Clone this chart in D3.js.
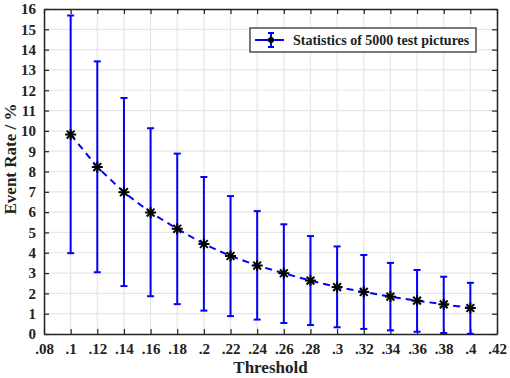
<!DOCTYPE html>
<html>
<head>
<meta charset="utf-8">
<script src="https://cdn.jsdelivr.net/npm/d3@7"></script>
<style>
  html, body { margin: 0; padding: 0; background: #fff; overflow: hidden; }
  svg { display: block; }
</style>
</head>
<body>
<div id="chart"></div>
<script>
// Threshold values and measured event rates (%)
const thresholds = [0.10, 0.12, 0.14, 0.16, 0.18, 0.20, 0.22, 0.24, 0.26, 0.28, 0.30, 0.32, 0.34, 0.36, 0.38, 0.40];
const meanRate   = [9.82, 8.22, 6.98, 5.98, 5.18, 4.43, 3.84, 3.37, 2.99, 2.63, 2.31, 2.07, 1.84, 1.64, 1.46, 1.28];
const upperRate  = [15.68, 13.42, 11.62, 10.13, 8.88, 7.73, 6.79, 6.05, 5.40, 4.82, 4.31, 3.89, 3.50, 3.15, 2.82, 2.52];
const lowerRate  = [3.98, 3.04, 2.36, 1.86, 1.47, 1.15, 0.88, 0.71, 0.54, 0.44, 0.33, 0.25, 0.18, 0.11, 0.05, 0.01];

const xTicks = [0.08, 0.10, 0.12, 0.14, 0.16, 0.18, 0.20, 0.22, 0.24, 0.26, 0.28, 0.30, 0.32, 0.34, 0.36, 0.38, 0.40, 0.42];
const yTicks = d3.range(0, 17);
const legendText = "Statistics of 5000 test pictures";

const serif = '"Liberation Serif", "Times New Roman", Times, serif';
const ink = "#222";

const width = 510, height = 378;
const margin = { left: 44, top: 9, right: 13, bottom: 44 };
const innerWidth = width - margin.left - margin.right;
const innerHeight = height - margin.top - margin.bottom;

const data = thresholds.map((t, i) => ({ t, mean: meanRate[i], hi: upperRate[i], lo: lowerRate[i] }));

const svg = d3.select("#chart").append("svg")
    .attr("width", width)
    .attr("height", height);
const g = svg.append("g").attr("transform", `translate(${margin.left}, ${margin.top})`);

const x = d3.scaleLinear().domain([0.08, 0.42]).range([0, innerWidth]);
const y = d3.scaleLinear().domain([0, 16]).range([innerHeight, 0]);

// Formats ".1", ".12" style labels
const fmt = v => String(+v.toFixed(2)).replace(/^0/, "");

function styleText(sel, size) {
    sel.style("font-family", serif)
        .style("font-weight", "bold")
        .style("font-size", size + "px")
        .attr("fill", ink);
}

// Grid lines
g.append("g").selectAll("line").data(xTicks.slice(1, -1)).enter().append("line")
    .attr("x1", d => x(d)).attr("x2", d => x(d))
    .attr("y1", 0).attr("y2", innerHeight)
    .attr("stroke", "#e6e6e6").attr("stroke-width", 1.2);
g.append("g").selectAll("line").data(yTicks.slice(1, -1)).enter().append("line")
    .attr("y1", d => y(d)).attr("y2", d => y(d))
    .attr("x1", 0).attr("x2", innerWidth)
    .attr("stroke", "#e6e6e6").attr("stroke-width", 1.2);

// Axes with inward ticks on all four sides
g.append("g").attr("transform", `translate(0, ${innerHeight})`)
    .call(d3.axisBottom(x).tickValues(xTicks).tickSizeInner(-5).tickSizeOuter(0).tickPadding(9).tickFormat(fmt))
    .call(a => styleText(a.selectAll("text"), 15));
g.append("g")
    .call(d3.axisTop(x).tickValues(xTicks).tickSizeInner(-5).tickSizeOuter(0).tickFormat(""));
g.append("g")
    .call(d3.axisLeft(y).tickValues(yTicks).tickSizeInner(-5).tickSizeOuter(0).tickPadding(8).tickFormat(d3.format("d")))
    .call(a => styleText(a.selectAll("text"), 15));
g.append("g").attr("transform", `translate(${innerWidth}, 0)`)
    .call(d3.axisRight(y).tickValues(yTicks).tickSizeInner(-5).tickSizeOuter(0).tickFormat(""));
g.selectAll(".domain").attr("stroke", ink).attr("stroke-width", 1.5);
g.selectAll(".tick line").attr("stroke", ink).attr("stroke-width", 1.2);

// Error bars
const capW = 3.5;
const bars = g.append("g").attr("stroke", "#0000ff").attr("stroke-width", 2);
bars.selectAll(".v").data(data).enter().append("line")
    .attr("x1", d => x(d.t)).attr("x2", d => x(d.t))
    .attr("y1", d => y(d.hi)).attr("y2", d => y(d.lo));
bars.selectAll(".top").data(data).enter().append("line")
    .attr("x1", d => x(d.t) - capW).attr("x2", d => x(d.t) + capW)
    .attr("y1", d => y(d.hi)).attr("y2", d => y(d.hi));
bars.selectAll(".bot").data(data).enter().append("line")
    .attr("x1", d => x(d.t) - capW).attr("x2", d => x(d.t) + capW)
    .attr("y1", d => y(d.lo)).attr("y2", d => y(d.lo));

// Dashed mean line
g.append("path").datum(data)
    .attr("fill", "none").attr("stroke", "#0000ff").attr("stroke-width", 2)
    .attr("stroke-dasharray", "7,5")
    .attr("d", d3.line().x(d => x(d.t)).y(d => y(d.mean)));

// Asterisk markers
function star(sel, r) {
    [0, 45, 90, 135].forEach(a => {
        const rad = a * Math.PI / 180;
        sel.append("line")
            .attr("x1", -r * Math.cos(rad)).attr("y1", -r * Math.sin(rad))
            .attr("x2", r * Math.cos(rad)).attr("y2", r * Math.sin(rad));
    });
}
g.append("g").selectAll("g").data(data).enter().append("g")
    .attr("transform", d => `translate(${x(d.t)}, ${y(d.mean)})`)
    .attr("stroke", "#000").attr("stroke-width", 2)
    .each(function () { star(d3.select(this), 5.5); });

// Axis labels
svg.append("text")
    .text("Threshold")
    .attr("text-anchor", "middle")
    .attr("x", margin.left + innerWidth / 2)
    .attr("y", 373)
    .call(styleText, 17);
svg.append("text")
    .text("Event Rate / %")
    .attr("text-anchor", "middle")
    .attr("transform", `translate(16, 159) rotate(-90)`)
    .call(styleText, 17);

// Legend
const lg = svg.append("g").attr("transform", "translate(250, 28)");
lg.append("rect").attr("width", 226).attr("height", 24)
    .attr("fill", "#fff").attr("stroke", ink).attr("stroke-width", 1.2);
lg.append("line").attr("x1", 5).attr("x2", 34).attr("y1", 12).attr("y2", 12)
    .attr("stroke", "#0000ff").attr("stroke-width", 2);
lg.append("line").attr("x1", 21).attr("x2", 21).attr("y1", 5).attr("y2", 19)
    .attr("stroke", "#0000ff").attr("stroke-width", 2);
lg.append("line").attr("x1", 18).attr("x2", 24).attr("y1", 5).attr("y2", 5)
    .attr("stroke", "#0000ff").attr("stroke-width", 2);
lg.append("line").attr("x1", 18).attr("x2", 24).attr("y1", 19).attr("y2", 19)
    .attr("stroke", "#0000ff").attr("stroke-width", 2);
lg.append("circle").attr("cx", 21).attr("cy", 12).attr("r", 3).attr("fill", "#000");
lg.append("text").text(legendText)
    .attr("x", 43).attr("y", 17)
    .call(styleText, 14);
</script>
</body>
</html>
